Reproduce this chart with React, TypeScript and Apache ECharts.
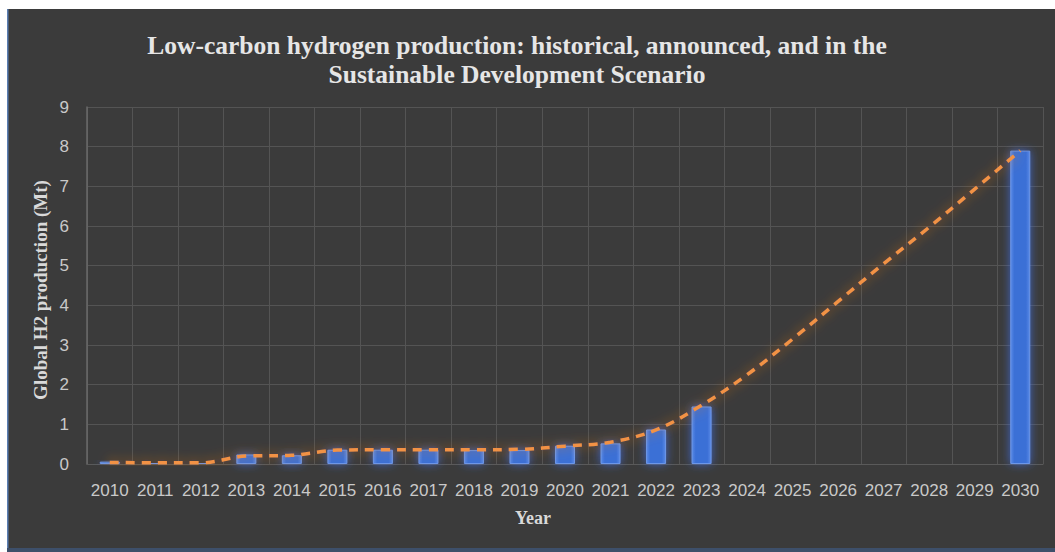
import React, { useEffect, useRef } from "react";
import * as echarts from "echarts";

// Years on the category axis
const years = [
  "2010", "2011", "2012", "2013", "2014", "2015", "2016", "2017", "2018", "2019", "2020",
  "2021", "2022", "2023", "2024", "2025", "2026", "2027", "2028", "2029", "2030",
];

// Historical / announced production (Mt), no bars for 2024–2029
const productionBars: (number | null)[] = [
  0.06, 0.03, 0.03, 0.24, 0.22, 0.36, 0.36, 0.36, 0.35, 0.35, 0.46,
  0.52, 0.87, 1.45, null, null, null, null, null, null, 7.9,
];

// Sustainable Development Scenario trajectory (Mt)
const scenarioLine = [
  0.04, 0.03, 0.03, 0.2, 0.22, 0.35, 0.36, 0.36, 0.36, 0.37, 0.45,
  0.55, 0.86, 1.48, 2.25, 3.15, 4.1, 5.05, 5.97, 6.93, 7.9,
];

const yTicks = [0, 1, 2, 3, 4, 5, 6, 7, 8, 9];

const titleLines = [
  "Low-carbon hydrogen production: historical, announced, and in the",
  "Sustainable Development Scenario",
];
const xAxisTitle = "Year";
const yAxisTitle = "Global H2 production (Mt)";

export default function App() {
  const ref = useRef<HTMLDivElement>(null);

  useEffect(() => {
    if (!ref.current) return;
    const chart = echarts.init(ref.current, undefined, { renderer: "svg" });
    const serif = "'Liberation Serif', 'Times New Roman', serif";
    const sans = "'Liberation Sans', Arial, sans-serif";
    chart.setOption({
      animation: false,
      backgroundColor: "#ffffff",
      graphic: [
        {
          type: "rect",
          z: -10,
          silent: true,
          shape: { x: 7, y: 9, width: 1048, height: 539 },
          style: { fill: "#3b3b3b" },
        },
        {
          type: "rect",
          z: -9,
          silent: true,
          shape: { x: 7, y: 9, width: 1.5, height: 543 },
          style: { fill: "#5b7fb3" },
        },
        {
          type: "rect",
          z: -9,
          silent: true,
          shape: { x: 7, y: 548, width: 1048, height: 4 },
          style: { fill: "#3d4f6a" },
        },
        {
          type: "text",
          silent: true,
          x: 533,
          y: 518,
          style: {
            text: xAxisTitle,
            font: `bold 18px ${serif}`,
            fill: "#d9d9d9",
            align: "center",
            verticalAlign: "middle",
          },
        },
        {
          type: "text",
          silent: true,
          x: 40,
          y: 290,
          rotation: Math.PI / 2,
          style: {
            text: yAxisTitle,
            font: `bold 19px ${serif}`,
            fill: "#d9d9d9",
            align: "center",
            verticalAlign: "middle",
          },
        },
      ],
      title: {
        text: titleLines.join("\n"),
        left: 512,
        textAlign: "center",
        top: 26,
        textStyle: {
          fontFamily: serif,
          fontWeight: "bold",
          fontSize: 25.5,
          color: "#e6e6e6",
          lineHeight: 29,
        },
      },
      grid: { left: 87, right: 12, top: 107, bottom: 88 },
      xAxis: {
        type: "category",
        data: years,
        axisLine: { show: true, lineStyle: { color: "#5a5a5a", width: 1 } },
        axisTick: { show: false },
        axisLabel: { fontFamily: sans, fontSize: 17, color: "#c9c9c9", margin: 18, interval: 0 },
        splitLine: { show: true, interval: 0, lineStyle: { color: "#545454", width: 1 } },
      },
      yAxis: {
        type: "value",
        min: 0,
        max: 9,
        interval: 1,
        axisLine: { show: true, lineStyle: { color: "#6a6a6a", width: 1.5 } },
        axisTick: { show: false },
        axisLabel: {
          fontFamily: sans,
          fontSize: 17,
          color: "#c9c9c9",
          margin: 18,
          formatter: (v: number) => (yTicks.includes(v) ? String(v) : ""),
        },
        splitLine: { show: true, lineStyle: { color: "#545454", width: 1 } },
      },
      series: [
        {
          type: "bar",
          data: productionBars,
          barWidth: "44%",
          itemStyle: {
            color: {
              type: "linear",
              x: 0,
              y: 0,
              x2: 1,
              y2: 0,
              colorStops: [
                { offset: 0, color: "#5a8ae6" },
                { offset: 0.2, color: "#3a6fd6" },
                { offset: 0.8, color: "#3a6fd6" },
                { offset: 1, color: "#5a8ae6" },
              ],
            },
            borderColor: "#6d97e8",
            borderWidth: 1,
            shadowBlur: 10,
            shadowColor: "rgba(60,110,230,0.8)",
          },
          z: 2,
        },
        {
          type: "line",
          data: scenarioLine,
          smooth: 0.35,
          symbol: "none",
          lineStyle: {
            color: "#f29245",
            width: 3.5,
            type: [9, 7],
            shadowBlur: 12,
            shadowColor: "rgba(240,120,40,0.85)",
          },
          z: 3,
        },
      ],
    });
    return () => chart.dispose();
  }, []);

  return (
    <div
      ref={ref}
      style={{ position: "fixed", left: 0, top: 0, width: 1055, height: 552 }}
    />
  );
}
